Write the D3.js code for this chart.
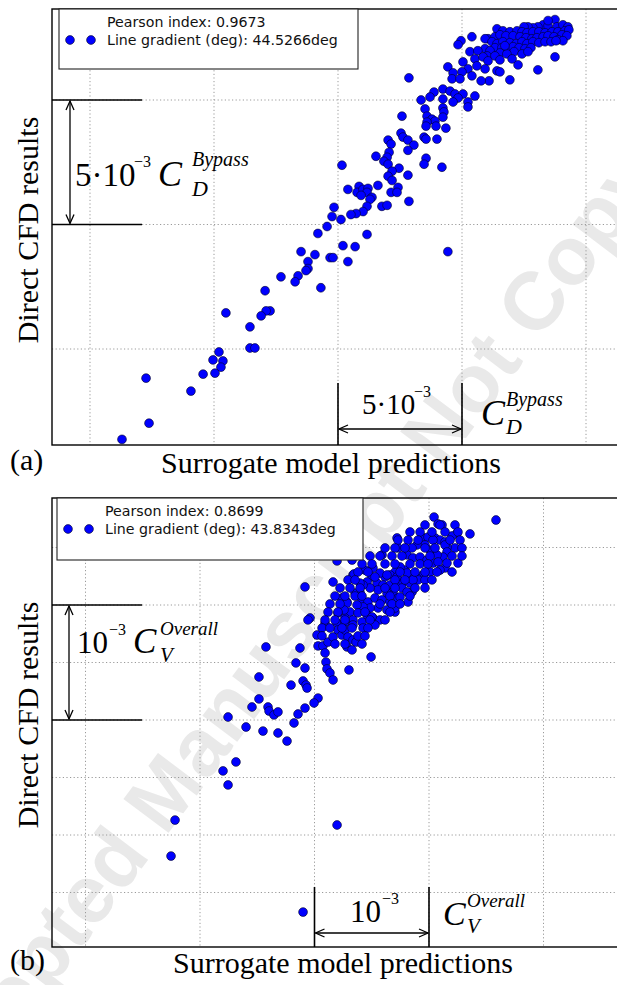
<!DOCTYPE html>
<html><head><meta charset="utf-8">
<script src="https://cdn.jsdelivr.net/npm/d3@7"></script>
<style>body{margin:0;background:#fff}svg{display:block}</style>
</head><body>
<script>
// ---------- DATA (panel a: C_D^Bypass in 1e-3 units; panel b: C_V^Overall in 1e-4 units) ----------
const topX=[18.75,18.27,18.47,18.83,19.07,19.27,18.06,17.86,17.66,17.50,16.41,16.65,16.93,17.22,17.42,17.62,17.86,18.10,18.35,18.63,18.87,19.15,19.31,19.03,19.23,16.05,16.33,16.53,16.77,17.06,17.34,17.58,17.82,18.02,18.27,18.47,18.71,18.87,19.07,15.93,16.21,16.41,16.65,16.93,17.18,17.42,17.62,17.86,18.10,18.35,18.59,18.79,16.33,16.61,16.81,17.06,17.30,17.54,17.78,15.93,16.13,17.10,17.42,17.66,16.53,16.01,16.33,16.81,17.02,15.40,14.96,14.84,15.32,15.64,15.52,15.04,15.85,16.05,16.53,17.26,16.41,16.53,16.93,16.09,15.77,15.93,15.60,15.24,15.00,14.43,14.64,14.60,14.92,15.40,18.75,18.06,12.86,14.23,13.87,13.71,13.35,14.23,14.52,14.72,15.04,14.84,14.64,15.52,15.24,15.24,14.23,13.51,13.59,14.27,14.23,13.79,13.91,13.59,13.55,13.95,14.35,12.58,12.54,12.62,12.82,13.06,12.82,13.47,13.55,13.99,12.02,12.14,12.06,11.98,11.85,11.53,12.02,13.55,13.47,14.19,12.46,12.18,12.82,12.02,12.18,12.42,11.61,10.16,10.40,10.85,10.77,11.01,11.21,11.17,10.93,11.37,12.14,12.38,11.29,11.77,11.98,11.17,11.01,10.73,10.52,9.84,9.76,10.12,9.56,9.19,11.17,10.20,10.69,8.51,9.07,9.68,9.80,10.40,8.79,8.79,8.71,8.39,7.70,8.27,9.31,7.06,14.43,5.48,7.26,7.10,6.90,6.45,6.45,6.65,5.20,4.96,5.36,5.28,5.04,4.56,2.26,4.07,2.38,1.29,12.86,18.47,16.73];
const topY=[13.23,13.02,12.98,12.94,13.02,12.94,12.94,12.90,12.94,12.94,12.86,12.78,12.74,12.78,12.74,12.70,12.74,12.74,12.70,12.74,12.74,12.78,12.82,12.62,12.58,12.46,12.54,12.62,12.58,12.58,12.54,12.50,12.46,12.50,12.54,12.58,12.54,12.42,12.38,12.46,12.34,12.26,12.34,12.30,12.26,12.34,12.26,12.34,12.30,12.34,12.34,12.38,12.10,12.10,12.02,12.14,12.10,12.06,12.10,12.06,11.98,11.94,11.85,11.94,11.89,11.77,11.77,11.85,11.65,12.54,12.38,12.22,11.94,11.98,11.65,11.53,11.73,11.57,11.61,11.41,11.17,11.13,10.81,10.77,10.77,11.25,11.37,11.25,11.13,11.33,11.09,10.85,10.85,10.97,11.73,11.21,10.89,10.44,10.32,10.12,10.00,10.04,10.36,10.24,10.24,10.08,9.92,10.16,9.92,9.72,9.68,9.64,9.35,9.52,9.31,9.23,9.15,9.11,8.95,8.95,8.87,9.35,8.67,8.51,8.39,8.19,7.98,8.51,8.43,8.43,8.39,8.23,7.90,7.70,7.54,7.74,7.42,7.66,7.42,7.30,7.26,7.14,6.98,6.94,6.77,6.49,6.57,7.38,6.41,6.53,6.29,6.41,6.45,6.29,6.17,6.09,6.29,6.29,6.01,5.73,5.77,5.73,5.52,5.44,5.40,5.69,5.32,5.20,4.92,4.64,4.60,4.15,4.11,3.91,3.79,3.67,3.67,3.51,3.51,3.23,3.15,2.94,2.90,2.70,2.46,2.34,3.91,1.45,1.53,1.53,1.33,0.89,0.04,0.04,-0.12,-0.44,-0.48,-0.73,-0.97,-1.01,-1.17,-1.69,-2.98,-3.63,5.93,13.19,12.18];
const botX=[35.85,30.44,30.79,31.14,33.58,32.45,32.01,27.21,29.39,29.91,30.53,30.96,31.40,32.27,31.57,25.90,27.29,32.53,31.40,23.36,24.41,28.52,28.17,27.03,30.35,31.40,31.57,31.22,30.70,30.09,29.65,28.95,28.52,28.08,28.60,29.22,29.83,30.35,30.79,31.57,30.96,30.09,29.48,28.95,28.34,27.90,27.47,27.03,26.59,26.16,25.72,25.11,25.02,24.59,25.46,25.98,26.59,27.21,27.73,28.34,29.04,29.65,27.64,26.86,26.33,25.55,24.85,24.24,23.97,23.54,24.15,24.67,25.28,25.90,26.59,27.29,27.03,26.33,25.55,24.85,24.24,23.71,22.84,23.10,23.80,24.59,25.11,25.72,22.66,23.36,24.15,28.08,27.47,22.40,22.84,22.58,22.05,23.97,25.28,26.33,27.21,28.08,28.60,21.97,22.66,23.36,24.24,25.02,19.17,21.62,23.45,19.61,19.43,20.92,20.22,15.76,18.73,20.31,20.74,20.92,21.18,21.62,22.05,22.40,22.66,22.93,23.36,23.63,22.84,23.28,21.00,21.09,21.35,21.62,23.01,24.94,25.28,18.38,19.17,15.15,19.00,19.26,19.35,17.95,20.31,19.96,15.15,14.54,15.94,19.17,18.56,18.21,17.60,16.81,15.50,14.02,12.45,16.03,16.46,16.81,13.14,12.01,12.45,7.82,7.47,21.97,19.00,21.97,23.28,
 29.65,30.96,32.27, 28.34,29.22,30.26,31.40,32.53, 27.29,28.17,29.04,31.84,32.71, 26.16,27.03,27.90,29.65,30.53,32.88, 24.85,25.72,26.77,27.64,30.09,32.01,32.88, 24.15,25.02,26.16,27.03,28.34,29.22,29.91, 23.80,24.67,27.47,28.78,29.65,30.70,32.01, 22.93,23.54,27.03,27.90,30.26, 22.23,23.10,23.98,26.16,27.03,28.78,29.65, 21.79,22.66,23.54,24.15,26.59,28.34, 21.35,22.23,25.72,26.77,27.47, 21.18,22.05,24.41,26.59, 20.92,21.79,22.66,24.85,26.16, 20.66,21.35,22.40,23.28,24.67, 20.66,23.80,24.41, 21.79,22.66,24.15];
const botY=[32.39,32.65,32.05,31.96,31.18,31.26,31.00,30.83,30.91,30.91,30.83,30.65,30.48,29.96,30.04,29.35,29.96,28.65,28.22,27.61,28.04,26.13,25.26,24.39,30.65,30.22,29.61,29.17,29.35,29.78,30.22,30.22,29.96,29.35,29.09,29.17,28.91,28.65,28.74,28.65,28.04,27.87,27.61,27.35,27.61,28.04,28.31,27.87,27.61,27.44,27.78,28.22,27.44,27.00,26.91,26.74,26.74,26.91,27.00,26.91,27.18,27.18,26.48,26.13,26.04,26.31,26.48,26.74,26.13,26.04,25.44,25.26,25.61,25.44,25.26,25.61,24.74,24.57,24.74,24.74,24.83,25.00,25.26,24.39,24.31,24.13,23.87,23.70,23.87,23.70,23.52,26.13,25.70,25.61,25.17,24.57,24.31,26.91,27.44,27.61,27.44,27.78,27.18,23.44,23.52,23.26,23.00,23.96,26.57,27.00,27.70,23.87,23.70,23.44,22.39,21.35,21.26,21.44,21.44,20.83,21.78,22.22,22.83,22.39,22.83,22.22,21.96,21.78,21.35,21.09,20.04,19.44,19.09,18.48,19.35,20.48,23.26,19.96,19.52,18.74,18.39,18.04,17.78,18.04,16.91,16.48,16.83,16.13,16.13,16.04,15.52,14.74,13.17,13.87,14.04,14.39,15.26,15.78,15.44,15.70,11.35,10.57,9.35,6.30,3.17,5.87,-1.70,28.83,28.91,
 31.96,31.96,31.96, 31.35,31.35,31.35,31.35,31.35, 30.65,30.65,30.65,30.65,30.65, 29.96,29.96,29.96,29.96,29.96,29.96, 29.26,29.26,29.26,29.26,29.26,29.26,29.26, 28.57,28.57,28.57,28.57,28.57,28.57,28.57, 27.87,27.87,27.87,27.87,27.87,27.87,27.87, 27.18,27.18,27.18,27.18,27.18, 26.48,26.48,26.48,26.48,26.48,26.48,26.48, 25.78,25.78,25.78,25.78,25.78,25.78, 25.09,25.09,25.09,25.09,25.09, 24.39,24.39,24.39,24.39, 23.70,23.70,23.70,23.70,23.70, 23.00,23.00,23.00,23.00,23.00, 22.31,22.31,22.31, 21.61,21.61,21.61];
const topGridX=[0,5,10,15,20], topGridY=[0,5,10];
const botGridX=[0,10,20,30,40], botGridY=[0,5,10,15,20,25,30];
const topLegend=["Pearson index: 0.9673","Line gradient (deg): 44.5266deg"];
const botLegend=["Pearson index: 0.8699","Line gradient (deg): 43.8343deg"];
const xLabel="Surrogate model predictions", yLabel="Direct CFD results";
const panelTags=["(a)","(b)"];

// ---------- DRAW ----------
const W=617,H=985;
const svg=d3.select("body").append("svg").attr("width",W).attr("height",H);
const SERIF="Liberation Serif, Times New Roman, serif";
const SANS="DejaVu Sans, Verdana, sans-serif";

// watermark (behind everything)
svg.append("text").attr("transform","translate(368,568) rotate(-53)")
  .attr("text-anchor","middle").attr("font-family","Liberation Sans, Arial, sans-serif")
  .attr("font-weight","bold").attr("font-size",82).attr("fill","#e9e9e9")
  .text("Accepted Manuscript Not Copyedited");

function arrowHead(g,x,y,ang){
  const L=9,Wd=4;
  const c=Math.cos(ang),s=Math.sin(ang);
  const bx=x-c*L,by=y-s*L;
  g.append("path").attr("d",`M${bx-s*Wd},${by+c*Wd}L${x},${y}L${bx+s*Wd},${by-c*Wd}`)
   .attr("fill","none").attr("stroke","#000").attr("stroke-width",1.3);
}
function dblArrow(g,x1,y1,x2,y2){
  g.append("line").attr("x1",x1).attr("y1",y1).attr("x2",x2).attr("y2",y2)
   .attr("stroke","#000").attr("stroke-width",1.3);
  const a=Math.atan2(y2-y1,x2-x1);
  arrowHead(g,x2,y2,a); arrowHead(g,x1,y1,a+Math.PI);
}
function txt(g,s,x,y,size,italic){
  g.append("text").attr("x",x).attr("y",y).attr("font-family",SERIF)
   .attr("font-size",size).attr("font-style",italic?"italic":"normal").text(s);
}

function panel(cfg){
  const g=svg.append("g");
  const x=d3.scaleLinear().domain(cfg.xd).range(cfg.xr);
  const y=d3.scaleLinear().domain(cfg.yd).range(cfg.yr);
  const B=cfg.box;
  const clip="clip"+cfg.id;
  svg.append("clipPath").attr("id",clip).append("rect")
    .attr("x",B.l).attr("y",B.t).attr("width",B.r-B.l).attr("height",B.b-B.t);
  const gg=g.append("g").attr("clip-path",`url(#${clip})`);
  gg.selectAll(".gx").data(cfg.gx).join("line")
    .attr("x1",d=>x(d)).attr("x2",d=>x(d)).attr("y1",B.t).attr("y2",B.b)
    .attr("stroke","#9a9a9a").attr("stroke-width",1).attr("stroke-dasharray","1.2,2.4");
  gg.selectAll(".gy").data(cfg.gy).join("line")
    .attr("y1",d=>y(d)).attr("y2",d=>y(d)).attr("x1",B.l).attr("x2",B.r)
    .attr("stroke","#9a9a9a").attr("stroke-width",1).attr("stroke-dasharray","1.2,2.4");
  const pts=d3.range(cfg.px.length).map(i=>[cfg.px[i],cfg.py[i]]);
  gg.selectAll("circle").data(pts).join("circle")
    .attr("cx",d=>x(d[0])).attr("cy",d=>y(d[1])).attr("r",4.4)
    .attr("fill","#0000ff").attr("stroke","#000022").attr("stroke-width",0.6);
  g.append("rect").attr("x",B.l).attr("y",B.t).attr("width",B.r-B.l).attr("height",B.b-B.t)
    .attr("fill","none").attr("stroke","#000").attr("stroke-width",1.4);
  const L=cfg.leg;
  g.append("rect").attr("x",L.x).attr("y",L.y).attr("width",L.w).attr("height",L.h)
    .attr("fill","#fff").attr("stroke","#222").attr("stroke-width",1.1);
  cfg.legText.forEach((s,i)=>{
    g.append("text").attr("x",L.x+48).attr("y",L.y+18+i*18).attr("font-family",SANS)
      .attr("font-size",14.2).attr("fill","#111").text(s);
  });
  [L.x+11,L.x+32].forEach(cx=>g.append("circle").attr("cx",cx).attr("cy",L.y+31).attr("r",4.4)
      .attr("fill","#0000ff").attr("stroke","#000022").attr("stroke-width",0.6));
  const a=cfg.vSpan;
  [a[0],a[1]].forEach(v=>g.append("line").attr("x1",B.l).attr("x2",B.l+90)
     .attr("y1",y(v)).attr("y2",y(v)).attr("stroke","#000").attr("stroke-width",1.6));
  dblArrow(g,cfg.vArrowX,y(a[1])+1,cfg.vArrowX,y(a[0])-1);
  const h=cfg.hSpan;
  [h[0],h[1]].forEach(v=>g.append("line").attr("x1",x(v)).attr("x2",x(v))
     .attr("y1",cfg.hTickTop).attr("y2",B.b).attr("stroke","#000").attr("stroke-width",1.6));
  dblArrow(g,x(h[0])+1,cfg.hArrowY,x(h[1])-1,cfg.hArrowY);
  cfg.annot.forEach(t=>txt(g,t[0],t[1],t[2],t[3],t[4]));
  g.append("text").attr("x",cfg.xlab[0]).attr("y",cfg.xlab[1]).attr("text-anchor","middle")
    .attr("font-family",SERIF).attr("font-size",30).text(xLabel);
  g.append("text").attr("transform",`translate(${cfg.ylab[0]},${cfg.ylab[1]}) rotate(-90)`)
    .attr("text-anchor","middle").attr("font-family",SERIF).attr("font-size",30).text(yLabel);
  g.append("text").attr("x",10).attr("y",cfg.tagY).attr("font-family",SERIF)
    .attr("font-size",30).text(cfg.tag);
}

panel({id:"a",xd:[0,20],xr:[90,586],yd:[0,10],yr:[349,100],
  box:{l:52,t:9,r:660,b:445},gx:topGridX,gy:topGridY,px:topX,py:topY,
  leg:{x:59,y:9,w:299,h:60},legText:topLegend,
  vSpan:[5,10],vArrowX:70,hSpan:[10,15],hTickTop:383,hArrowY:429,
  annot:[["5·10",75,186,33,false],["−3",134,167,16,false],["C",158,186,36,true],["Bypass",192,166,20,true],["D",192,196,22,true],
         ["5·10",362,414,29,false],["−3",414,397,16,false],["C",481,425,36,true],["Bypass",506,406,20,true],["D",506,434,22,true]],
  xlab:[331,473],ylab:[38,230],tag:panelTags[0],tagY:470});

panel({id:"b",xd:[0,40],xr:[85.5,543.5],yd:[0,30],yr:[892.5,547.5],
  box:{l:52,t:498,r:660,b:947},gx:botGridX,gy:botGridY,px:botX,py:botY,
  leg:{x:57,y:498,w:306,h:62},legText:botLegend,
  vSpan:[15,25],vArrowX:69,hSpan:[20,30],hTickTop:887,hArrowY:933,
  annot:[["10",77,653,31,false],["−3",109,635,16,false],["C",133,653,35,true],["Overall",160,635,19,true],["V",160,662,21,true],
         ["10",350,922,31,false],["−3",382,904,16,false],["C",443,925,34,true],["Overall",467,907,19,true],["V",467,933,21,true]],
  xlab:[343,973],ylab:[38,715],tag:panelTags[1],tagY:970});
</script>
</body></html>
